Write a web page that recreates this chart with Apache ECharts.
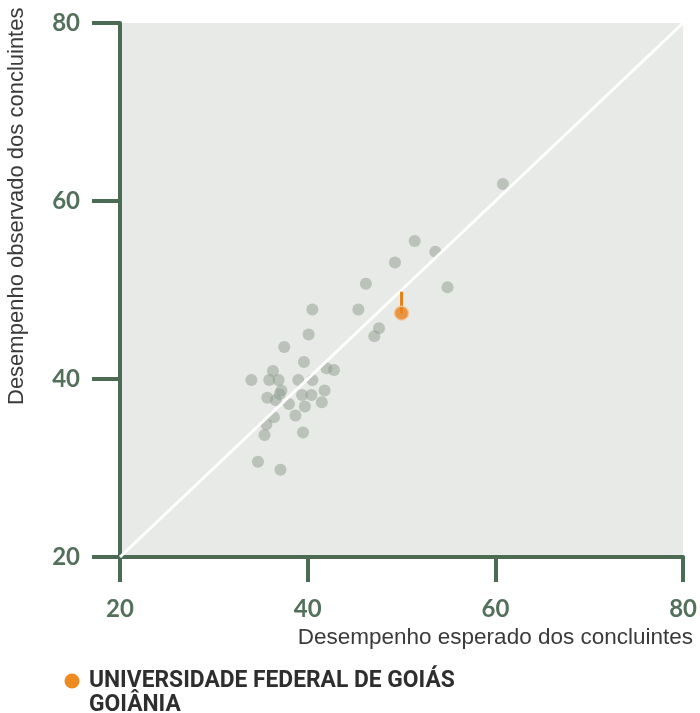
<!DOCTYPE html>
<html>
<head>
<meta charset="utf-8">
<script src="https://cdn.jsdelivr.net/npm/echarts@6/dist/echarts.min.js"></script>
<style>
html,body{margin:0;padding:0;background:#ffffff;}
#chart{width:700px;height:713px;}
</style>
</head>
<body>
<div id="chart"></div>
<script>
// Data
var expected = [60.8, 51.4, 53.6, 49.3, 46.2, 54.9, 40.5, 45.4, 47.6, 47.1, 40.1, 37.5, 39.6, 36.3, 42.0, 42.8,
                34.0, 35.9, 36.9, 39.0, 40.5, 37.2, 37.0, 35.7, 39.4, 40.4, 41.8, 41.5, 38.0, 36.6, 39.7, 38.7,
                36.4, 35.6, 35.4, 39.5, 34.7, 37.1];
var observed = [61.9, 55.5, 54.3, 53.1, 50.7, 50.3, 47.8, 47.8, 45.7, 44.8, 45.0, 43.6, 41.9, 40.9, 41.2, 41.0,
                39.9, 39.9, 39.9, 39.9, 39.9, 38.7, 38.3, 37.9, 38.2, 38.2, 38.7, 37.4, 37.2, 37.6, 36.9, 35.9,
                35.7, 34.9, 33.7, 34.0, 30.7, 29.8];
var highlightName = 'UNIVERSIDADE FEDERAL DE GOIÁS';
var highlightCity = 'GOIÂNIA';
var highlightExpected = 50.0;
var highlightObserved = 47.4;
var highlightStemTop = 49.8;
var diagonal = [20, 80];
var ticks = [20, 40, 60, 80];
var xTitle = 'Desempenho esperado dos concluintes';
var yTitle = 'Desempenho observado dos concluintes';

var green = '#4b6b53';
var points = expected.map(function (x, i) { return [x, observed[i]]; });

var chart = echarts.init(document.getElementById('chart'));
var axisCommon = {
  type: 'value',
  min: ticks[0],
  max: ticks[ticks.length - 1],
  interval: ticks[1] - ticks[0],
  splitLine: { show: false },
  axisLine: { show: true, lineStyle: { color: green, width: 4 } },
  axisTick: { show: true, lineStyle: { color: green, width: 4 } },
  axisLabel: { color: '#52705a', fontSize: 24, fontWeight: 'bold', fontFamily: 'Lato, sans-serif' }
};
var xAxis = echarts.util.merge(echarts.util.clone(axisCommon), {
  axisTick: { length: 25 }, axisLabel: { margin: 40 }
}, true);
var yAxis = echarts.util.merge(echarts.util.clone(axisCommon), {
  axisTick: { length: 28 }, axisLabel: { margin: 40 }
}, true);

chart.setOption({
  animation: false,
  grid: { left: 120, right: 14, top: 23, bottom: 156, show: true, backgroundColor: '#e7eae6', borderWidth: 0 },
  xAxis: xAxis,
  yAxis: yAxis,
  series: [
    {
      type: 'scatter', z: 2, symbolSize: 12,
      itemStyle: { color: '#8e998e', opacity: 0.5 },
      data: points
    },
    {
      type: 'line', z: 3, symbol: 'none', silent: true,
      lineStyle: { color: '#ffffff', width: 3 },
      data: [[diagonal[0], diagonal[0]], [diagonal[1], diagonal[1]]]
    },
    {
      type: 'line', z: 4, symbol: 'none', silent: true,
      lineStyle: { color: '#e8801a', width: 3 },
      data: [[highlightExpected, highlightObserved], [highlightExpected, highlightStemTop]]
    },
    {
      type: 'scatter', z: 5, symbolSize: 14, name: highlightName,
      itemStyle: { color: '#e8801a', borderColor: '#f6c79a', borderWidth: 1.5 },
      data: [[highlightExpected, highlightObserved]]
    }
  ],
  graphic: [
    {
      type: 'text', x: 693, y: 638,
      style: { text: xTitle, textAlign: 'right', textVerticalAlign: 'middle', fill: '#3a3a3a', fontSize: 22.5, fontFamily: 'Liberation Sans, Arial, sans-serif' }
    },
    {
      type: 'text', x: 17, y: 405, rotation: Math.PI / 2,
      style: { text: yTitle, textAlign: 'left', textVerticalAlign: 'middle', fill: '#3a3a3a', fontSize: 22, fontFamily: 'Liberation Sans, Arial, sans-serif' }
    },
    {
      type: 'circle', shape: { cx: 72, cy: 681, r: 7.5 }, style: { fill: '#ee8a22' }
    },
    {
      type: 'text', x: 89, y: 669, scaleX: 0.95,
      style: { text: highlightName + '\n' + highlightCity, textAlign: 'left', textVerticalAlign: 'top', fill: '#2e2e2e', fontSize: 24, fontWeight: 'bold', lineHeight: 24, fontFamily: 'Roboto, sans-serif' }
    }
  ]
});
</script>
</body>
</html>
